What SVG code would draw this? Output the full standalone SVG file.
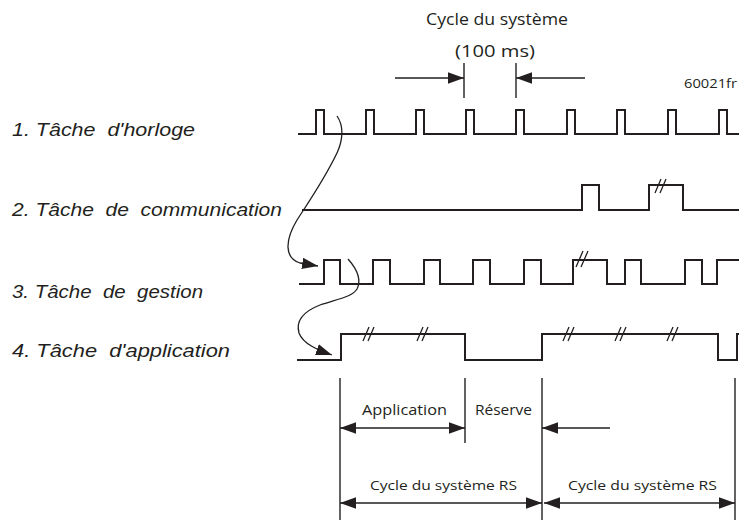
<svg xmlns="http://www.w3.org/2000/svg" xmlns:xlink="http://www.w3.org/1999/xlink" width="739" height="520" viewBox="0 0 739 520">
  <style>
    .wave { fill: none; stroke: #231f20; stroke-width: 2; stroke-linejoin: miter; }
    .brk { fill: none; stroke: #231f20; stroke-width: 1.3; }
    .dim { fill: none; stroke: #231f20; stroke-width: 1.4; }
    .curve { fill: none; stroke: #231f20; stroke-width: 1.3; }
    .label { font-family: "Liberation Sans", Arial, sans-serif; font-style: italic; font-size: 18px; fill: #231f20; white-space: pre; }
    .note { font-family: "Open Sans", "Noto Sans", sans-serif; fill: #231f20; }
  </style>
  <defs>
    <marker id="ah" markerUnits="userSpaceOnUse" markerWidth="16" markerHeight="12" refX="14" refY="5" orient="auto-start-reverse" viewBox="0 0 14 10">
      <path d="M0,0 L14,5 L0,10 Z" fill="#231f20"/>
    </marker>
    <!-- double slash break mark -->
    <path id="brk" class="brk" d="M-6,7 L0,-7 M-1,7 L5,-7"/>
    <path id="brkTall" class="brk" d="M-6,8 L1,-8 M-1,8 L6,-8"/>
  </defs>

  <!-- headers -->
  <g id="header">
    <text class="note" x="497" y="25" font-size="17" text-anchor="middle" textLength="142" lengthAdjust="spacingAndGlyphs">Cycle du système</text>
    <text class="note" x="495" y="57" font-size="17" text-anchor="middle" textLength="80" lengthAdjust="spacingAndGlyphs">(100 ms)</text>
    <text class="note" x="684" y="88" font-size="12" textLength="53" lengthAdjust="spacingAndGlyphs">60021fr</text>
    <line class="dim" x1="464" y1="63" x2="464" y2="98"/>
    <line class="dim" x1="516" y1="63" x2="516" y2="98"/>
    <line class="dim" x1="395" y1="78" x2="464" y2="78" marker-end="url(#ah)"/>
    <line class="dim" x1="585" y1="78" x2="516" y2="78" marker-end="url(#ah)"/>
  </g>

  <!-- task 1: clock -->
  <g id="task-clock">
    <text class="label" xml:space="preserve" x="12" y="136" textLength="183" lengthAdjust="spacingAndGlyphs">1. Tâche  d'horloge</text>
    <path class="wave" d="M298,134 H316 V110 H324 V134 H366 V110 H374 V134 H416 V110 H424 V134 H466 V110 H474 V134 H516 V110 H524 V134 H567 V110 H575 V134 H617 V110 H625 V134 H668 V110 H676 V134 H719 V110 H727 V134 H739"/>
  </g>

  <!-- task 2: communication -->
  <g id="task-comm">
    <text class="label" xml:space="preserve" x="12" y="216" textLength="270" lengthAdjust="spacingAndGlyphs">2. Tâche  de  communication</text>
    <path class="wave" d="M302,210 H582 V185 H599 V210 H649 V185 H683 V210 H739"/>
    <use xlink:href="#brk" href="#brk" x="661" y="186"/>
  </g>

  <!-- task 3: management -->
  <g id="task-gestion">
    <text class="label" xml:space="preserve" x="12" y="298" textLength="191" lengthAdjust="spacingAndGlyphs">3. Tâche  de  gestion</text>
    <path class="wave" d="M299,284 H324 V260 H340 V284 H373 V260 H390 V284 H424 V260 H440 V284 H473 V260 H490 V284 H524 V260 H541 V284 H573 V260 H607 V284 H625 V260 H641 V284 H685 V260 H702 V284 H717 V260 H739"/>
    <use xlink:href="#brkTall" href="#brkTall" x="582" y="259"/>
  </g>

  <!-- task 4: application -->
  <g id="task-app">
    <text class="label" xml:space="preserve" x="12" y="357" textLength="218" lengthAdjust="spacingAndGlyphs">4. Tâche  d'application</text>
    <path class="wave" d="M297,360 H341 V334 H465 V360 H542 V334 H718 V360 H737 V334 H739"/>
    <use xlink:href="#brk" href="#brk" x="369" y="334"/>
    <use xlink:href="#brk" href="#brk" x="423" y="334"/>
    <use xlink:href="#brk" href="#brk" x="569" y="334"/>
    <use xlink:href="#brk" href="#brk" x="621" y="334"/>
    <use xlink:href="#brk" href="#brk" x="673" y="334"/>
  </g>

  <!-- connectors between tasks -->
  <g id="connectors">
    <path class="curve" d="M337,116 C344,126 343,140 337,153 C324,180 308,203 297,220 C285,240 284,258 300,263 L318,266" marker-end="url(#ah)"/>
    <path class="curve" d="M348,259 C356,268 362,279 357,289 C352,297 338,299 320,305 C302,312 296,322 299,333 C303,344 318,350 332,355" marker-end="url(#ah)"/>
  </g>

  <!-- timing scale -->
  <g id="timing">
    <line class="dim" x1="340" y1="378" x2="340" y2="520"/>
    <line class="dim" x1="465" y1="378" x2="465" y2="443"/>
    <line class="dim" x1="542" y1="378" x2="542" y2="520"/>
    <line class="dim" x1="735" y1="378" x2="735" y2="520"/>
    <text class="note" x="362" y="415" font-size="14" textLength="85" lengthAdjust="spacingAndGlyphs">Application</text>
    <text class="note" x="475" y="415" font-size="14" textLength="57" lengthAdjust="spacingAndGlyphs">Réserve</text>
    <line class="dim" x1="340" y1="428" x2="465" y2="428" marker-start="url(#ah)" marker-end="url(#ah)"/>
    <line class="dim" x1="610" y1="428" x2="542" y2="428" marker-end="url(#ah)"/>
    <text class="note" x="370" y="490" font-size="13.5" textLength="147" lengthAdjust="spacingAndGlyphs">Cycle du système RS</text>
    <text class="note" x="568" y="490" font-size="13.5" textLength="149" lengthAdjust="spacingAndGlyphs">Cycle du système RS</text>
    <line class="dim" x1="340" y1="503" x2="542" y2="503" marker-start="url(#ah)" marker-end="url(#ah)"/>
    <line class="dim" x1="544" y1="503" x2="735" y2="503" marker-start="url(#ah)" marker-end="url(#ah)"/>
  </g>
</svg>
